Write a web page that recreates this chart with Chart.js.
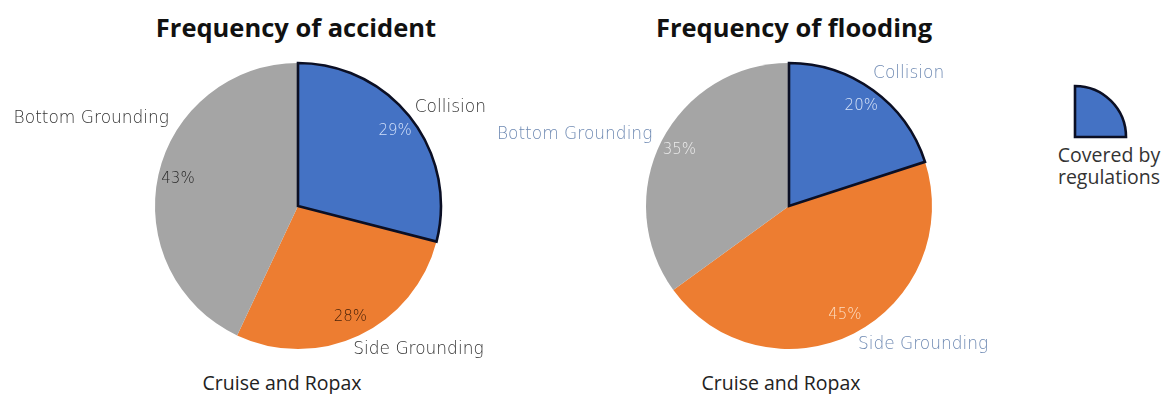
<!DOCTYPE html>
<html>
<head>
<meta charset="utf-8">
<script src="https://cdn.jsdelivr.net/npm/chart.js@4/dist/chart.umd.min.js"></script>
<style>
  body { margin: 0; background: #fff; width: 1162px; height: 394px; position: relative; overflow: hidden; }
  canvas { position: absolute; }
  .title { position: absolute; font: 700 25.5px "Open Sans", sans-serif; color: #111; text-align: center; line-height: 32px; }
  .caption { position: absolute; font: 400 19.5px "Open Sans", sans-serif; color: #222; text-align: center; line-height: 22px; }
</style>
</head>
<body>
<div class="title" style="left:96px; width:400px; top:11px;">Frequency of accident</div>
<div class="title" style="left:594px; width:400px; top:11px;">Frequency of flooding</div>
<div class="caption" style="left:182px; width:200px; top:372px;">Cruise and Ropax</div>
<div class="caption" style="left:681px; width:200px; top:372px;">Cruise and Ropax</div>
<div class="caption" style="left:1034px; width:150px; top:144px; color:#333;">Covered by<br>regulations</div>

<div style="position:absolute; left:0; top:0; width:596px; height:394px;"><canvas id="accident"></canvas></div>
<div style="position:absolute; left:493px; top:0; width:592px; height:394px;"><canvas id="flooding"></canvas></div>
<div style="position:absolute; left:1070px; top:81px; width:61px; height:61px;"><canvas id="covered"></canvas></div>

<script>
const categories = ["Collision", "Side Grounding", "Bottom Grounding"];
const accidentShares = [29, 28, 43];
const floodingShares = [20, 45, 35];
const coveredShare = [25];

const sliceColors = ["#4472C4", "#ED7D31", "#A5A5A5"];
const labelFont = '300 17px "DejaVu Sans", sans-serif';
const pctFont = '300 15px "DejaVu Sans", sans-serif';

// outlines the first slice and writes the slice texts
const sliceLabels = {
    id: "sliceLabels",
    afterDatasetsDraw(chart, args, opts) {
        const ctx = chart.ctx;
        const arcs = chart.getDatasetMeta(0).data;
        const values = chart.data.datasets[0].data;
        const total = values.reduce((a, b) => a + b, 0);

        if (opts.outline) {
            const a = arcs[0];
            ctx.save();
            ctx.beginPath();
            ctx.moveTo(a.x, a.y);
            ctx.arc(a.x, a.y, a.outerRadius, a.startAngle, a.endAngle);
            ctx.closePath();
            ctx.lineWidth = 2.6;
            ctx.lineJoin = "miter";
            ctx.strokeStyle = "#0b0f24";
            ctx.stroke();
            ctx.restore();
        }
        if (!opts.pctColors) return;

        ctx.save();
        ctx.textAlign = "center";
        ctx.textBaseline = "middle";
        arcs.forEach((a, i) => {
            const mid = (a.startAngle + a.endAngle) / 2;
            const r = a.outerRadius * 0.86;
            ctx.font = pctFont;
            ctx.fillStyle = opts.pctColors[i];
            ctx.fillText(Math.round(values[i] / total * 100) + "%", a.x + Math.cos(mid) * r, a.y + Math.sin(mid) * r);

            const [deg, dist] = opts.namePos[i];
            const t = (deg - 90) * Math.PI / 180;
            ctx.font = labelFont;
            ctx.fillStyle = opts.nameColor;
            ctx.fillText(chart.data.labels[i], a.x + Math.cos(t) * a.outerRadius * dist, a.y + Math.sin(t) * a.outerRadius * dist);
        });
        ctx.restore();
    }
};

function pieConfig(values, labelOpts, padding) {
    return {
        type: "pie",
        data: {
            labels: categories,
            datasets: [{ data: values, backgroundColor: sliceColors, borderWidth: 0 }]
        },
        options: {
            responsive: true,
            maintainAspectRatio: false,
            animation: false,
            layout: { padding: padding },
            plugins: {
                legend: { display: false },
                tooltip: { enabled: false },
                sliceLabels: labelOpts
            }
        },
        plugins: [sliceLabels]
    };
}

new Chart(document.getElementById("accident"), pieConfig(accidentShares, {
    outline: true,
    pctColors: ["#d2e0fa", "#4a2208", "#2a2a2a"],
    nameColor: "#333333",
    namePos: [[57, 1.27], [140, 1.31], [293, 1.57]]
}, { left: 155, right: 155, top: 63, bottom: 45 }));

new Chart(document.getElementById("flooding"), pieConfig(floodingShares, {
    outline: true,
    pctColors: ["#d8e4f8", "#fcdcc0", "#ececec"],
    nameColor: "#6f8ab3",
    namePos: [[42, 1.25], [136, 1.35], [288.4, 1.58]]
}, { left: 153, right: 153, top: 63, bottom: 45 }));

new Chart(document.getElementById("covered"), {
    type: "pie",
    data: {
        labels: ["Collision"],
        datasets: [{ data: coveredShare, backgroundColor: sliceColors[0], borderWidth: 0, circumference: 90 }]
    },
    options: {
        responsive: true,
        maintainAspectRatio: false,
        animation: false,
        layout: { padding: 5 },
        plugins: {
            legend: { display: false },
            tooltip: { enabled: false },
            sliceLabels: { outline: true }
        }
    },
    plugins: [sliceLabels]
});
</script>
</body>
</html>
